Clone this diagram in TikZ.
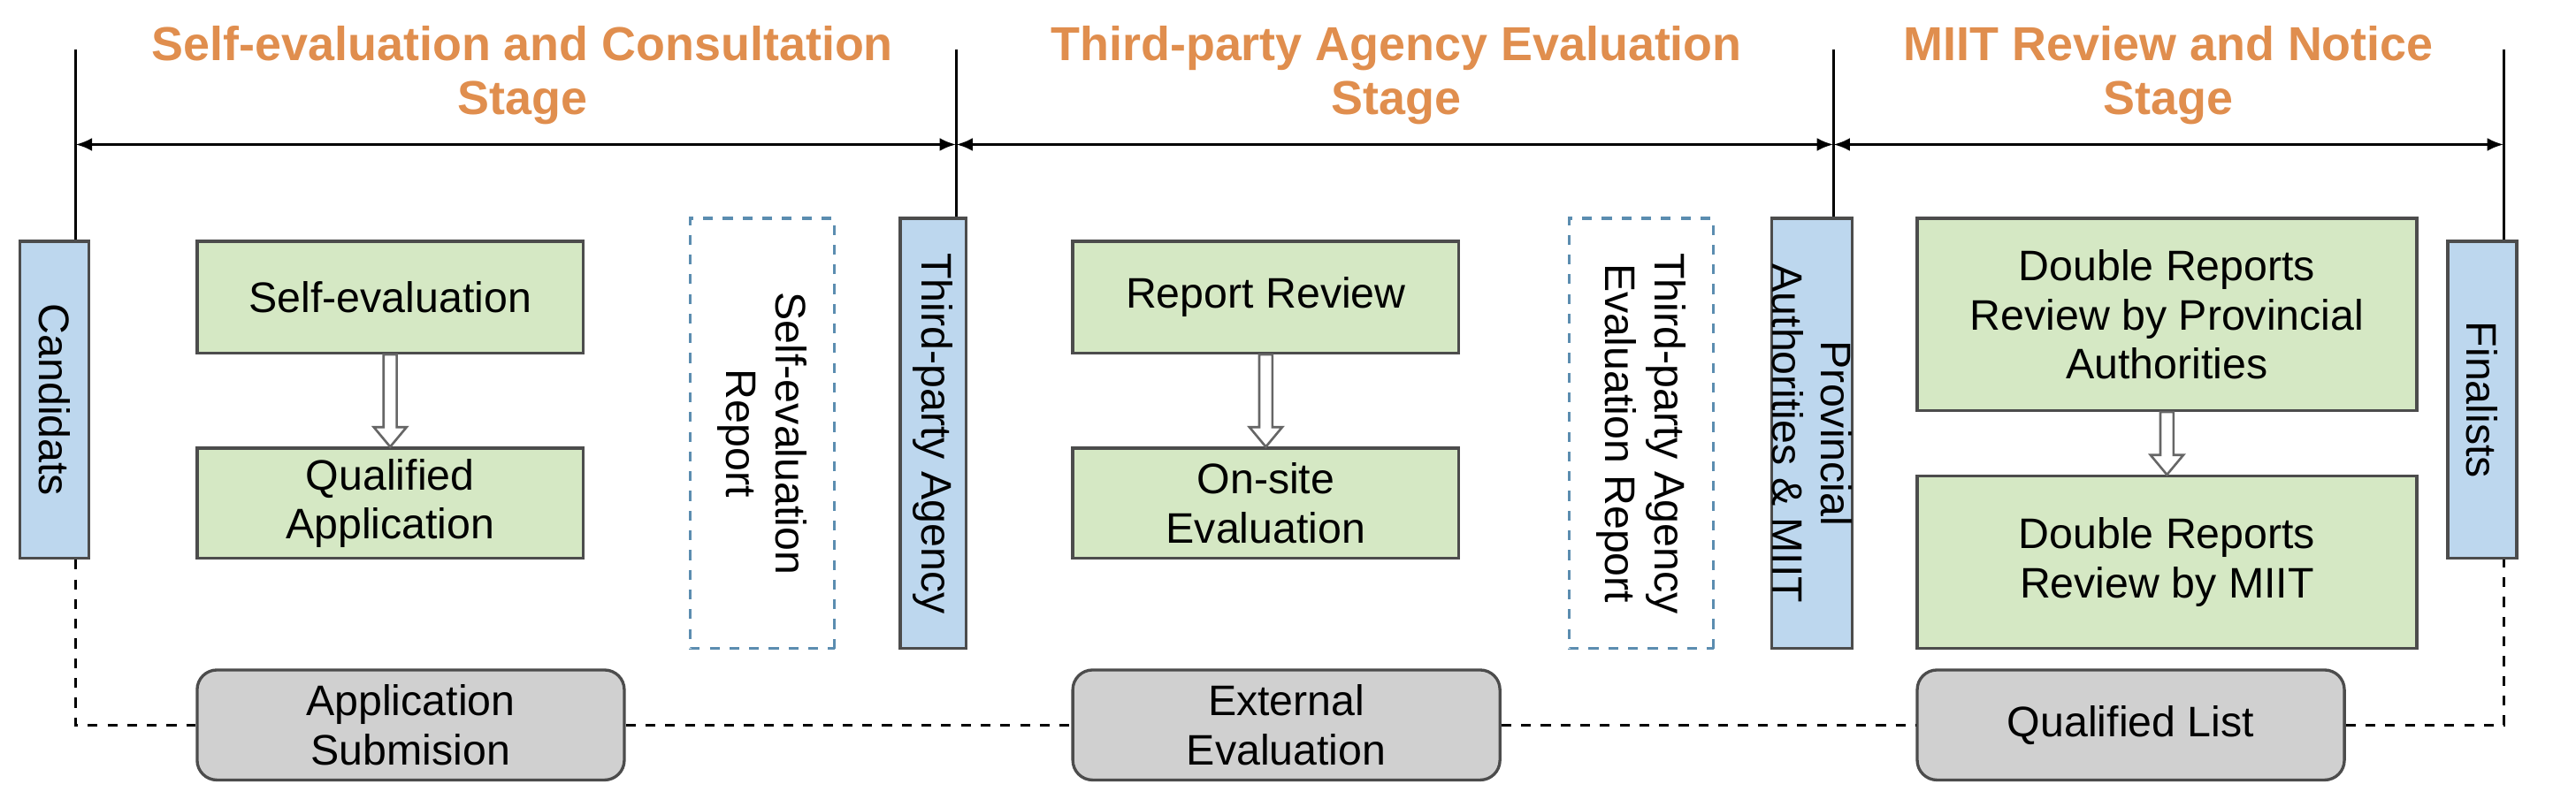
\documentclass[tikz,border=0pt]{standalone}
\usepackage{fontspec}
\setmainfont{Liberation Sans}
\usetikzlibrary{arrows.meta,calc}
\definecolor{gfill}{HTML}{D5E8C4}
\definecolor{bfill}{HTML}{BDD7EE}
\definecolor{grfill}{HTML}{D0D0D0}
\definecolor{orng}{HTML}{E08E4E}
\definecolor{dblue}{HTML}{5B8DB0}
\begin{document}
\begin{tikzpicture}[x=0.5pt,y=-0.5pt,
  every node/.style={font=\fontsize{13}{15}\selectfont, align=center, inner sep=1pt},
  green/.style={draw=black!70, fill=gfill, line width=0.9pt, minimum width=117.5pt},
  blue/.style={draw=black!70, fill=bfill, line width=0.9pt, rotate=-90},
  dbox/.style={draw=dblue, dashed, line width=0.9pt, rotate=-90, minimum width=131pt, minimum height=44pt},
  gray/.style={draw=black!70, fill=grfill, line width=0.9pt, rounded corners=6pt, minimum width=130pt, minimum height=33.5pt},
  title/.style={text=orng, font=\bfseries\fontsize{14.5}{16.5}\selectfont},
  hollow/.style={draw=black!60, fill=white, line width=0.7pt},
  stage/.style={{Latex[length=5pt,width=4pt]}-{Latex[length=5pt,width=4pt]}, line width=0.9pt}]
\useasboundingbox (0,0) rectangle (1568,491);
% nodes
\node[blue, minimum width=96.5pt, minimum height=21pt] (cand) at (33,243.5) {Candidats};
\node[green, minimum height=34pt] (se) at (237.5,181) {Self-evaluation};
\node[green, minimum height=33.5pt] (qa) at (237.5,306.5) {Qualified\\Application};
\node[dbox] (ser) at (464,264) {Self-evaluation\\Report};
\node[blue, minimum width=131pt, minimum height=20pt] (tpa) at (568,264) {Third-party Agency};
\node[green, minimum height=34pt] (rr) at (770.5,181) {Report Review};
\node[green, minimum height=33.5pt] (os) at (770.5,306.5) {On-site\\Evaluation};
\node[dbox] (ter) at (999,264) {Third-party Agency\\Evaluation Report};
\node[blue, minimum width=131pt, minimum height=24pt, inner sep=0pt] (prov) at (1103,264) {Provincial\\Authorities \& MIIT};
\node[green, minimum width=152pt, minimum height=58.5pt] (dr1) at (1319,191.5) {Double Reports\\Review by Provincial\\Authorities};
\node[green, minimum width=152pt, minimum height=52.5pt] (dr2) at (1319,342.5) {Double Reports\\Review by MIIT};
\node[blue, minimum width=96.5pt, minimum height=21pt] (fin) at (1511,243.5) {Finalists};
\node[gray] (g1) at (250,441.5) {Application\\Submision};
\node[gray] (g2) at (783,441.5) {External\\Evaluation};
\node[gray] (g3) at (1297,441.5) {Qualified List};
\node[title] (t1) at (318,46) {Self-evaluation and Consultation\\Stage};
\node[title] (t2) at (850,46) {Third-party Agency Evaluation\\Stage};
\node[title] (t3) at (1320,46) {MIIT Review and Notice\\Stage};
% stage lines
\coordinate (v1) at (46,30); \coordinate (v2) at (582,30);
\coordinate (v3) at (1116,30); \coordinate (v4) at (1524,30);
\draw[line width=0.9pt] (v1) -- (v1 |- cand.west);
\draw[line width=0.9pt] (v2) -- (v2 |- tpa.west);
\draw[line width=0.9pt] (v3) -- (v3 |- prov.west);
\draw[line width=0.9pt] (v4) -- (v4 |- fin.west);
\coordinate (a1) at (46,88); \coordinate (a2) at (582,88);
\coordinate (a3) at (1116,88); \coordinate (a4) at (1524,88);
\draw[stage] (a1) -- (a2);
\draw[stage] (a2) -- (a3);
\draw[stage] (a3) -- (a4);
% dashed bottom line
\draw[dashed, line width=0.8pt] (v1 |- cand.east) |- (g1.west);
\draw[dashed, line width=0.8pt] (g1.east) -- (g2.west);
\draw[dashed, line width=0.8pt] (g2.east) -- (g3.west);
\draw[dashed, line width=0.8pt] (g3.east) -| (v4 |- fin.east);
% hollow arrows
\foreach \a/\b in {se/qa, rr/os, dr1/dr2}{
  \draw[hollow] ($(\a.south)+(-4,0)$) -- ($(\b.north)+(-4,-12)$) -- ($(\b.north)+(-10,-12)$)
    -- (\b.north) -- ($(\b.north)+(10,-12)$) -- ($(\b.north)+(4,-12)$) -- ($(\a.south)+(4,0)$) -- cycle;
}
\end{tikzpicture}
\end{document}
